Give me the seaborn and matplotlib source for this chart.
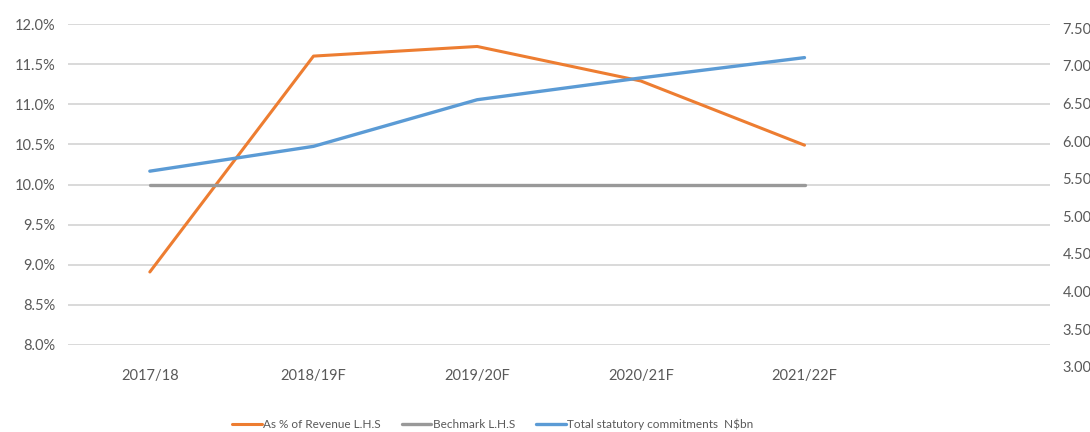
import matplotlib
matplotlib.use("Agg")
import matplotlib.pyplot as plt
from matplotlib.ticker import FuncFormatter, MultipleLocator
import seaborn as sns
import pandas as pd

# Fiscal years
years = ["2017/18", "2018/19F", "2019/20F", "2020/21F", "2021/22F"]
# Statutory commitments as % of revenue (left axis)
pct_revenue = [8.91, 11.60, 11.72, 11.29, 10.49]
# Benchmark (left axis)
benchmark = [10.0, 10.0, 10.0, 10.0, 10.0]
# Total statutory commitments, N$bn (right axis)
total_commitments = [5.60, 5.93, 6.55, 6.84, 7.11]

series_names = ["As % of Revenue L.H.S", "Bechmark L.H.S",
                "Total statutory commitments  N$bn"]

df = pd.DataFrame({"year": years, "pct": pct_revenue,
                   "bench": benchmark, "total": total_commitments})

sns.set_theme(style="white")
plt.rcParams["font.family"] = ["Lato", "DejaVu Sans"]

orange = "#ED7D31"
grey = "#999999"
blue = "#5B9BD5"
label_col = "#595959"

W, H = 1090, 432
fig = plt.figure(figsize=(W / 100, H / 100), dpi=100)
left, right, top, bottom = 68, 1050, 24, 345
ax = fig.add_axes([left / W, 1 - bottom / H, (right - left) / W, (bottom - top) / H])
# Secondary scale sits in its own slightly taller box so its lowest tick shows
ax2_bottom = 370
ax2 = fig.add_axes([left / W, 1 - ax2_bottom / H, (right - left) / W,
                    (ax2_bottom - top) / H], sharex=ax)
ax2.patch.set_visible(False)
ax2.yaxis.tick_right()
ax2.tick_params(axis="x", labelbottom=False, length=0)

sns.lineplot(data=df, x="year", y="pct", ax=ax, color=orange, lw=2.2,
             label=series_names[0], sort=False)
sns.lineplot(data=df, x="year", y="bench", ax=ax, color=grey, lw=2.4,
             label=series_names[1], sort=False)
sns.lineplot(data=df, x="year", y="total", ax=ax2, color=blue, lw=2.4,
             label=series_names[2], sort=False)

# Left axis: percent scale
ax.set_ylim(8.0, 12.0)
ax.yaxis.set_major_locator(MultipleLocator(0.5))
ax.yaxis.set_major_formatter(FuncFormatter(lambda v, p: f"{v:.1f}%"))
ax.grid(axis="y", color="#d9d9d9", lw=1.4)
ax.grid(axis="x", visible=False)
ax.set_axisbelow(True)

# Six category slots, the last one left empty
ax.set_xlim(-0.5, 5.5)

# Right axis: N$bn scale
ax2.set_ylim(2.956, 7.557)
ax2.yaxis.set_major_locator(MultipleLocator(0.5))
ax2.yaxis.set_major_formatter(FuncFormatter(lambda v, p: f"{v:.2f}"))
ax2.grid(False)

for a in (ax, ax2):
    for s in a.spines.values():
        s.set_visible(False)
    a.set_xlabel("")
    a.set_ylabel("")

ax.tick_params(axis="y", length=0, pad=9, labelsize=10.5, labelcolor=label_col)
ax.tick_params(axis="x", length=0, pad=17, labelsize=10.5, labelcolor=label_col)
ax2.tick_params(axis="y", length=0, pad=9, labelsize=10.5, labelcolor=label_col)

# Combined legend below the chart
h1, l1 = ax.get_legend_handles_labels()
h2, l2 = ax2.get_legend_handles_labels()
ax.get_legend().remove()
ax2.get_legend().remove()
fig.legend(h1 + h2, l1 + l2, loc="center", bbox_to_anchor=(0.452, 0.017),
           ncol=3, frameon=False, fontsize=8.5, handlelength=2.5,
           handletextpad=0.1, columnspacing=1.8, labelcolor=label_col)

fig.savefig("out.png", dpi=100, facecolor="white")
